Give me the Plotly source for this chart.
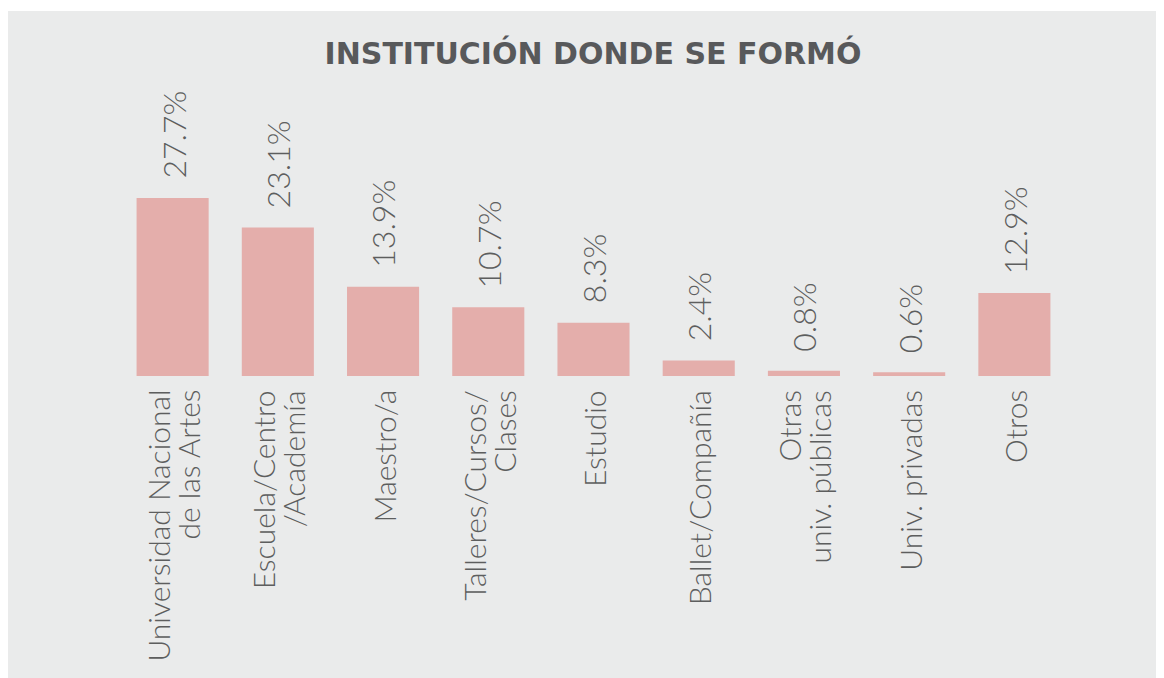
import plotly.graph_objects as go

categories = [
    "Universidad Nacional<br>de las Artes",
    "Escuela/Centro<br>/Academía",
    "Maestro/a",
    "Talleres/Cursos/<br>Clases",
    "Estudio",
    "Ballet/Compañía",
    "Otras<br>univ. públicas",
    "Univ. privadas",
    "Otros",
]
values = [27.7, 23.1, 13.9, 10.7, 8.3, 2.4, 0.8, 0.6, 12.9]
value_labels = [f"{v:.1f}%" for v in values]

title_text = "INSTITUCIÓN DONDE SE FORMÓ"

# figure is drawn with an 8px page offset in the browser
W, H = 1156, 670
ML, MR, MT, MB = 112, 97, 72, 302
PW, PH = W - ML - MR, H - MT - MB

BG = "#eaebeb"
BAR = "#e4aeab"
TXT = "#5d5e5e"
FONT = "Lato"
LINE_GAP = 30

fig = go.Figure()
fig.add_trace(go.Bar(
    x=categories, y=values,
    marker=dict(color=BAR, line=dict(width=0)),
    hoverinfo="skip",
))

# value labels above bars
for c, v, t in zip(categories, values, value_labels):
    fig.add_annotation(
        x=c, y=v, xref="x", yref="y", text=t, showarrow=False,
        textangle=-90, xanchor="center", yanchor="bottom", yshift=17,
        font=dict(family=FONT, size=32, color=TXT, weight=300),
    )

# category labels (rotated, one annotation per line for tighter line spacing)
for c in categories:
    lines = c.split("<br>")
    n = len(lines)
    for i, ln in enumerate(lines):
        fig.add_annotation(
            x=c, y=0, xref="x", yref="y", text=ln, showarrow=False,
            textangle=-90, xanchor="center", yanchor="top",
            xshift=(i - (n - 1) / 2) * LINE_GAP, yshift=-12,
            font=dict(family=FONT, size=30, color=TXT, weight=300),
        )

# background panel
fig.add_shape(
    type="rect", xref="paper", yref="paper",
    x0=-ML / PW, x1=(W - ML) / PW,
    y0=(MT + PH - H) / PH, y1=(MT + PH - 3) / PH,
    fillcolor=BG, line=dict(width=0), layer="below",
)

fig.update_layout(
    width=W, height=H,
    margin=dict(l=ML, r=MR, t=MT, b=MB, autoexpand=False),
    paper_bgcolor="white", plot_bgcolor="rgba(0,0,0,0)",
    bargap=0.315,
    showlegend=False,
    title=dict(
        text=f"<b>{title_text}</b>", x=585 / W, xanchor="center",
        y=1 - 45 / H, yanchor="middle", yref="container",
        font=dict(family="DejaVu Sans", size=30, color="#58595b"),
    ),
    xaxis=dict(
        showticklabels=False, showgrid=False, zeroline=False, showline=False,
        ticks="", fixedrange=True,
    ),
    yaxis=dict(
        range=[0, PH / (178 / 27.7)], visible=False, fixedrange=True,
    ),
)

fig.write_html("out.html")
